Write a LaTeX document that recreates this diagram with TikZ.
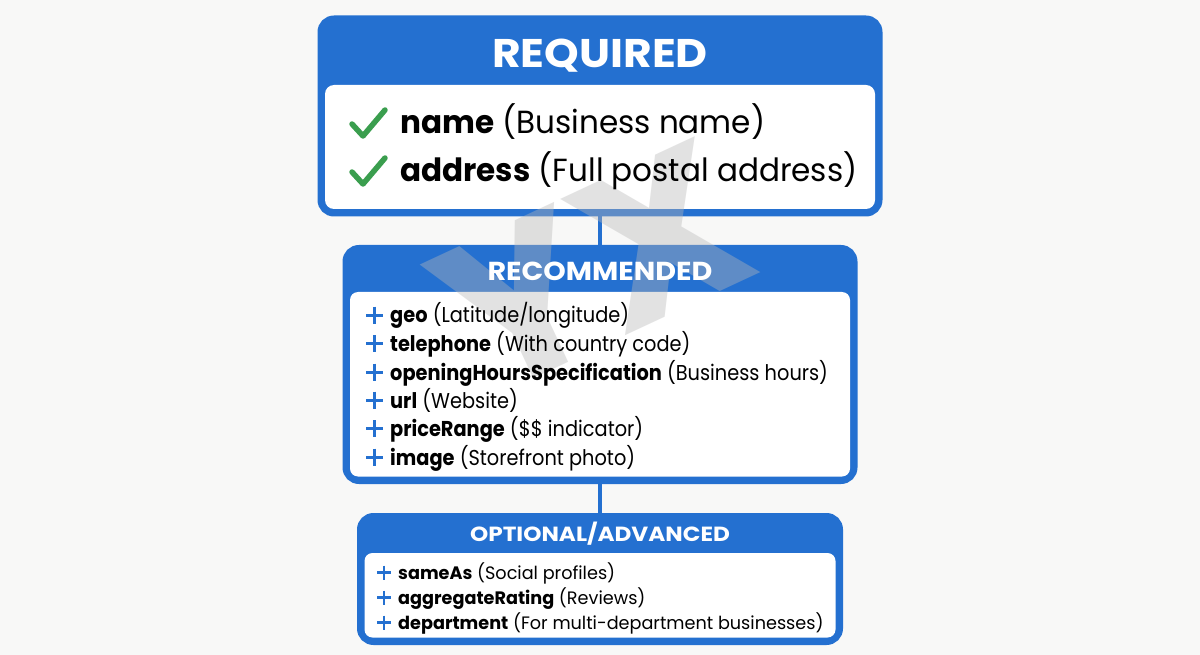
\documentclass[tikz,border=0pt]{standalone}
\usepackage{fontspec}
\setmainfont{Poppins}
\usetikzlibrary{positioning}

\definecolor{tierblue}{HTML}{2470D0}
\definecolor{tickgreen}{HTML}{3A9E4E}
\definecolor{paper}{HTML}{F8F8F7}
\definecolor{markgray}{HTML}{B8B8B8}

\tikzset{
  tierbox/.style={draw=tierblue, fill=tierblue, line width=5pt,
    rounded corners=14pt, inner sep=0pt, outer sep=0pt},
  tiertitle/.style={anchor=base, inner sep=0pt, text=white},
  tierlink/.style={draw=tierblue, line width=4pt},
  item/.style={anchor=base west, inner sep=0pt, text=black},
  plusmark/.style={draw=tierblue, line width=3pt},
}

\begin{document}
\begin{tikzpicture}[x=1pt, y=-1pt]
    \fill[paper] (0,0) rectangle (1200,655);
    \useasboundingbox (0,0) rectangle (1200,655);

    % the three tiers
    \node[tierbox, minimum width=560pt, minimum height=196pt] (req) at (600,116) {};
    \node[tierbox, minimum width=510pt, minimum height=234pt, below=33.5pt of req] (rec) {};
    \node[tierbox, minimum width=481pt, minimum height=127pt, below=34pt of rec] (opt) {};

    \fill[white, rounded corners=9pt]
        ([shift={(5pt,-67pt)}]req.north west) rectangle ([shift={(-5pt,5pt)}]req.south east);
    \fill[white, rounded corners=8pt]
        ([shift={(5pt,-44.5pt)}]rec.north west) rectangle ([shift={(-5pt,5pt)}]rec.south east);
    \fill[white, rounded corners=8pt]
        ([shift={(5pt,-37.5pt)}]opt.north west) rectangle ([shift={(-5pt,5pt)}]opt.south east);

    \draw[tierlink] (req.south) -- (rec.north);
    \draw[tierlink] (rec.south) -- (opt.north);

    % watermark
    \node[text=markgray, opacity=0.4, rotate=25,
        font=\fontsize{215}{215}\selectfont\bfseries\addfontfeature{FakeStretch=1.05}]
        (mark) at (592,268) {YX};

    % headers
    \node[tiertitle, font=\fontsize{40}{40}\selectfont\bfseries\addfontfeature{FakeStretch=1.1}]
        (reqtitle) at (600,67.5) {REQUIRED};
    \node[tiertitle, font=\fontsize{26}{26}\selectfont\bfseries\addfontfeature{FakeStretch=1.1}]
        (rectitle) at (600,280) {RECOMMENDED};
    \node[tiertitle, font=\fontsize{20.5}{20.5}\selectfont\bfseries\addfontfeature{FakeStretch=1.13}]
        (opttitle) at (600,541) {OPTIONAL/ADVANCED};

    % required items
    \foreach \y/\key/\note [count=\i] in {134/name/Business name, 182/address/Full postal address} {
        \draw[tickgreen, line width=5.5pt, line cap=round, line join=round]
            (352,\y-10) -- (363,\y+2) -- (385,\y-24);
        \node[item, font=\fontsize{32}{32}\selectfont\addfontfeature{FakeStretch=0.97}]
            (req\i) at (400,\y) {\textbf{\key} (\note)};
    }

    % recommended items
    \foreach \y/\key/\note [count=\i] in {323/geo/{Latitude/longitude},
            351.5/telephone/With country code,
            380/openingHoursSpecification/Business hours,
            408/url/Website,
            436.5/priceRange/\$\$ indicator,
            465/image/Storefront photo} {
        \draw[plusmark] (366,\y-8) -- (383,\y-8) (374.5,\y-16.5) -- (374.5,\y+0.5);
        \node[item, font=\fontsize{21.5}{21.5}\selectfont\addfontfeature{FakeStretch=0.9}]
            (rec\i) at (390,\y) {\textbf{\key} (\note)};
    }

    % optional items
    \foreach \y/\key/\note [count=\i] in {579/sameAs/Social profiles,
            604/aggregateRating/Reviews,
            629/department/For multi-department businesses} {
        \draw[plusmark, line width=2.7pt] (377,\y-6.5) -- (391,\y-6.5) (384,\y-13.5) -- (384,\y+0.5);
        \node[item, font=\fontsize{18}{18}\selectfont\addfontfeature{FakeStretch=0.98}]
            (opt\i) at (398,\y) {\textbf{\key} (\note)};
    }
\end{tikzpicture}
\end{document}
